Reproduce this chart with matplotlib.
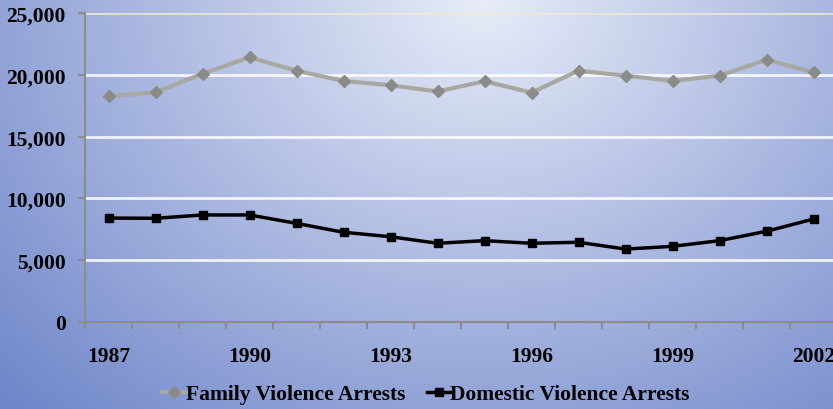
import numpy as np
import matplotlib
matplotlib.use("Agg")
import matplotlib.pyplot as plt
from matplotlib.ticker import FuncFormatter, MultipleLocator

years = list(range(1987, 2003))
family = [18260, 18580, 20090, 21410, 20330, 19500, 19150, 18650, 19480, 18560,
          20330, 19930, 19500, 19930, 21220, 20200]
domestic = [8410, 8390, 8660, 8660, 7980, 7260, 6900, 6370, 6580, 6370,
            6450, 5900, 6120, 6580, 7340, 8330]
label_years = [1987, 1990, 1993, 1996, 1999, 2002]

W, H = 833, 410
fig = plt.figure(figsize=(W / 100, H / 100), dpi=100)

# background gradient
bg = fig.add_axes([0, 0, 1, 1], zorder=0)
bg.axis("off")
yy, xx = np.mgrid[0:1:200j, 0:1:400j]
d = np.sqrt(((xx - 0.58) / 0.58) ** 2 + (yy / 1.0) ** 2)
t = np.clip(d / 1.41, 0, 1)
c0 = np.array([232, 236, 248]) / 255
c1 = np.array([110, 133, 201]) / 255
img = c0[None, None, :] * (1 - t[..., None]) + c1[None, None, :] * t[..., None]
bg.imshow(img, extent=[0, 1, 0, 1], aspect="auto", origin="upper")
bg.set_xlim(0, 1); bg.set_ylim(0, 1)

ax = fig.add_axes([85 / W, 87 / H, 752 / W, 309 / H], zorder=1)
ax.patch.set_alpha(0)
x = np.arange(len(years))
ax.set_xlim(-0.5, len(years) - 0.5)
ax.set_ylim(0, 25000)

for v in range(5000, 25001, 5000):
    col = "#eee9d6" if v == 25000 else "white"
    ax.axhline(v, color=col, lw=2, zorder=1, alpha=0.85)

ax.plot(x, family, color="#a8a8a2", lw=3, marker="D", ms=6,
        mfc="#8a8a86", mec="#8a8a86", zorder=3, label="Family Violence Arrests")
ax.plot(x, domestic, color="black", lw=2.5, marker="s", ms=5.5,
        mfc="black", mec="black", zorder=3, label="Domestic Violence Arrests")

for s in ["top", "right"]:
    ax.spines[s].set_visible(False)
for s in ["left", "bottom"]:
    ax.spines[s].set_color("#8c8c8c")
    ax.spines[s].set_linewidth(1.5)

serif = ["Liberation Serif", "DejaVu Serif"]
fs = 15.5
ax.yaxis.set_major_locator(MultipleLocator(5000))
ax.yaxis.set_major_formatter(FuncFormatter(lambda v, p: f"{int(v):,}"))
ax.tick_params(axis="y", length=5, width=1.5, color="#8c8c8c", pad=9)
ax.set_xticks([years.index(y) for y in label_years])
ax.set_xticklabels([str(y) for y in label_years])
ax.set_xticks(np.arange(-0.5, len(years)), minor=True)
ax.tick_params(axis="x", which="major", length=0, pad=17)
ax.tick_params(axis="x", which="minor", length=5, width=1.5, color="#8c8c8c")
for lab in ax.get_xticklabels() + ax.get_yticklabels():
    lab.set_fontfamily(serif)
    lab.set_fontweight("bold")
    lab.set_fontsize(fs)
    lab.set_color("black")

leg = fig.legend(loc="center", bbox_to_anchor=(426 / W, 1 - 395 / H), ncol=2,
                 frameon=False, prop={"family": serif, "weight": "bold", "size": fs},
                 handlelength=1.1, handletextpad=0.0, columnspacing=1.0)

fig.savefig("out.png", dpi=100)
